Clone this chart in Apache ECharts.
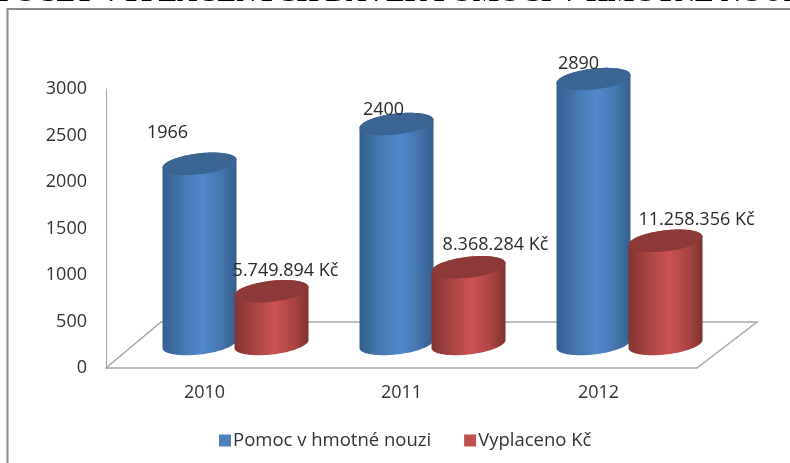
<!DOCTYPE html>
<html>
<head>
<meta charset="utf-8">
<style>
  html, body { margin: 0; padding: 0; background: #fff; }
  #chart { width: 790px; height: 463px; filter: blur(0.5px); }
</style>
<script src="https://cdn.jsdelivr.net/npm/echarts@6/dist/echarts.min.js"></script>
</head>
<body>
<div id="chart"></div>
<script>
const years = ['2010', '2011', '2012'];
const recipients = [1966, 2400, 2890];
const paidHeights = [575, 837, 1126];
const paidLabels = ['5.749.894 Kč', '8.368.284 Kč', '11.258.356 Kč'];
const seriesNames = ['Pomoc v hmotné nouzi', 'Vyplaceno Kč'];
const pageTitle = 'POČET VYPLACENÝCH DÁVEK POMOCI V HMOTNÉ NOUZI';

const font = '"Open Sans", sans-serif';
const textColor = '#333';
const lineColor = '#a6a6a6';

const blueBody = ['#33608e', '#4678b0', '#5189cc', '#4374ab', '#335f8e'];
const redBody = ['#823432', '#ab4543', '#cd5351', '#a84341', '#7e3230'];

// label shift from the centre of each cylinder top
const blueLabelShift = [[-32, -31], [-13, -14], [-15, -15]];
const redLabelShift = [[14, -20], [27, -22], [31, -21]];

function ellipsePoint(cx, cy, t) {
  // the ellipses lean up to the right, so y also follows cos(t)
  return [cx + 37 * Math.cos(t), cy + 10.5 * Math.sin(t) - 4 * Math.cos(t)];
}

function cylinderItem(stops, topColor, shift, sideOffset, labelFor) {
  return function (params, api) {
    const idx = params.dataIndex;
    const top = api.coord([api.value(0), api.value(1)]);
    const base = api.coord([api.value(0), 0]);
    const band = api.size([1, 0])[0];
    const cx = top[0] + sideOffset * band;

    const bodyPts = [];
    for (let i = 0; i <= 48; i += 1) {
      bodyPts.push(ellipsePoint(cx, base[1], (Math.PI * i) / 48));
    }
    for (let i = 0; i <= 48; i += 1) {
      bodyPts.push(ellipsePoint(cx, top[1], Math.PI + (Math.PI * i) / 48));
    }
    const topPts = [];
    for (let i = 0; i < 96; i += 1) {
      topPts.push(ellipsePoint(cx, top[1], (2 * Math.PI * i) / 96));
    }

    return {
      type: 'group',
      children: [
        {
          type: 'polygon',
          shape: { points: bodyPts },
          style: {
            fill: new echarts.graphic.LinearGradient(0, 0, 1, 0, stops.map((color, i) => ({
              offset: [0, 0.28, 0.55, 0.82, 1][i],
              color
            })))
          }
        },
        { type: 'polygon', shape: { points: topPts }, style: { fill: topColor } },
        {
          type: 'text',
          z2: 10,
          style: {
            x: cx + shift[idx][0],
            y: top[1] + shift[idx][1],
            text: labelFor(idx),
            fill: '#2a2a2a',
            font: '18px ' + font,
            align: 'center',
            verticalAlign: 'middle'
          }
        }
      ]
    };
  };
}

const chart = echarts.init(document.getElementById('chart'), null, { renderer: 'canvas' });

chart.setOption({
  animation: false,
  backgroundColor: '#fff',
  textStyle: { fontFamily: font },
  legend: {
    left: 214,
    top: 426,
    itemWidth: 12,
    itemHeight: 12,
    itemGap: 33,
    icon: 'rect',
    textStyle: { color: textColor, fontSize: 18.5, fontFamily: font, padding: [0, 0, 0, -3] },
    data: seriesNames
  },
  grid: [
    // front of the floor: carries the visible axes
    { left: 106, right: 93, top: 89, bottom: 95 },
    // middle of the floor: the cylinders stand here
    { left: 137, width: 591, top: 69, bottom: 119 }
  ],
  xAxis: [
    {
      gridIndex: 0,
      type: 'category',
      data: years,
      axisTick: { show: false },
      axisLine: { lineStyle: { color: lineColor, width: 1.5 } },
      axisLabel: { color: textColor, fontSize: 18, margin: 16 }
    },
    { gridIndex: 1, type: 'category', data: years, show: false }
  ],
  yAxis: [
    {
      gridIndex: 0,
      type: 'value',
      min: 0,
      max: 3000,
      interval: 500,
      axisLine: { show: true, lineStyle: { color: lineColor, width: 1 } },
      axisTick: { show: false },
      splitLine: { show: false },
      axisLabel: { color: textColor, fontSize: 18, margin: 19, formatter: (v) => String(v) }
    },
    { gridIndex: 1, type: 'value', min: 0, max: 3000, interval: 500, show: false }
  ],
  graphic: [
    {
      type: 'polyline',
      silent: true,
      z: 0,
      shape: { points: [[7.5, 470], [7.5, 9], [800, 9]] },
      style: { fill: null, stroke: '#8a8a8a', lineWidth: 2 }
    },
    {
      // floor outline, behind the cylinders
      type: 'polyline',
      silent: true,
      z: 0,
      shape: { points: [[106, 368], [161, 322], [757, 322], [697, 368]] },
      style: { fill: null, stroke: lineColor, lineWidth: 1.5 }
    },
    {
      type: 'text',
      silent: true,
      z: 0,
      x: 405,
      y: -20,
      style: {
        text: pageTitle,
        fill: '#000',
        font: 'bold 28px "Liberation Serif", serif',
        align: 'center',
        verticalAlign: 'top'
      }
    }
  ],
  series: [
    {
      name: seriesNames[0],
      type: 'custom',
      xAxisIndex: 1,
      yAxisIndex: 1,
      z: 3,
      itemStyle: { color: '#4f81bd' },
      renderItem: cylinderItem(blueBody, '#3b6592', blueLabelShift, -36 / 197, (i) => String(recipients[i])),
      data: years.map((year, i) => [i, recipients[i]])
    },
    {
      name: seriesNames[1],
      type: 'custom',
      xAxisIndex: 1,
      yAxisIndex: 1,
      z: 4,
      itemStyle: { color: '#c0504d' },
      renderItem: cylinderItem(redBody, '#8c3937', redLabelShift, 36 / 197, (i) => paidLabels[i]),
      data: years.map((year, i) => [i, paidHeights[i]])
    }
  ]
});
window.addEventListener('resize', () => chart.resize());
</script>
</body>
</html>
